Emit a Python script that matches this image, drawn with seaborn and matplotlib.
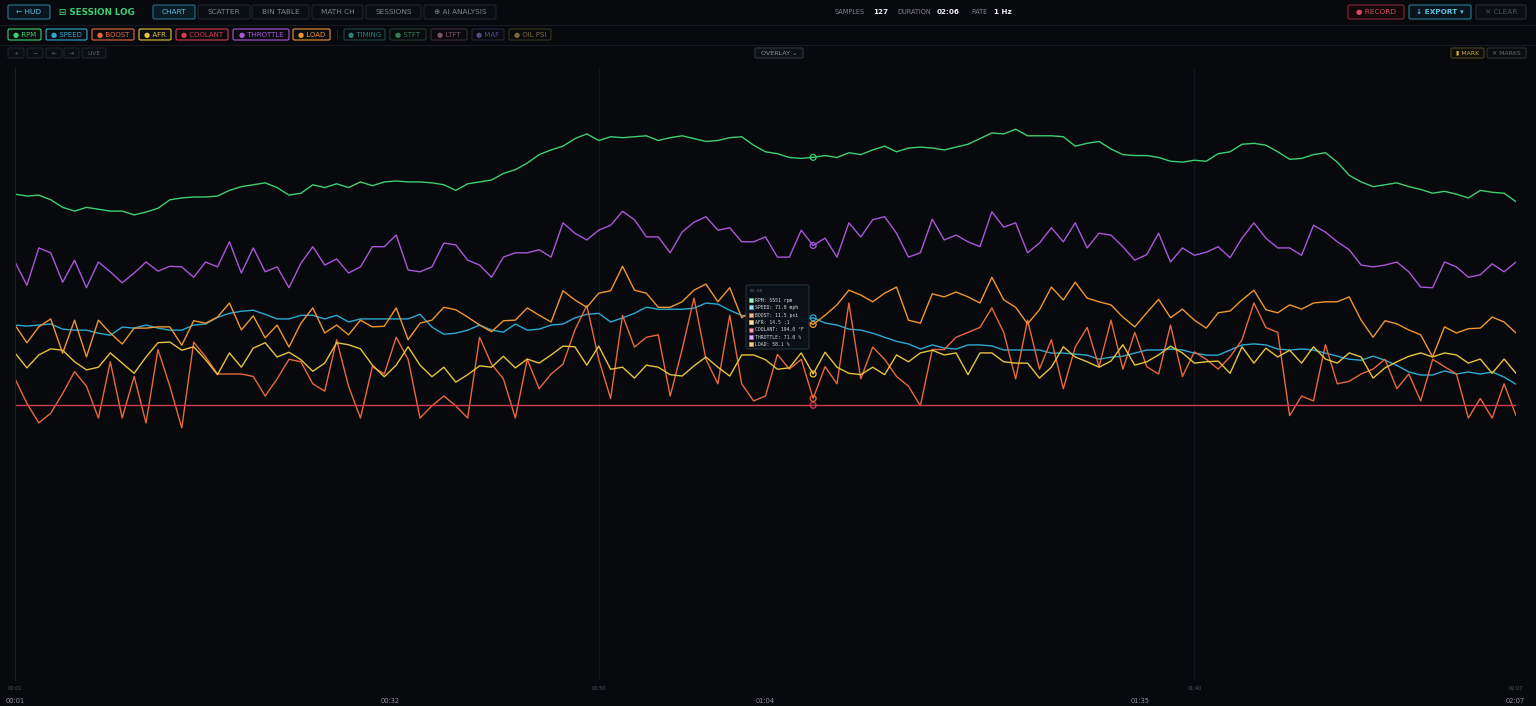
import numpy as np
import pandas as pd
import matplotlib
matplotlib.use("Agg")
import matplotlib.pyplot as plt
import seaborn as sns
from matplotlib.patches import Rectangle, FancyBboxPatch

# ---------------- data (1 Hz samples) ----------------
t = list(range(1, 128))

rpm = [5160, 5140, 5150, 5100, 5020, 4980, 5020, 5000, 4980, 4980,
       4940, 4970, 5010, 5100, 5120, 5130, 5130, 5140, 5200, 5240,
       5260, 5280, 5230, 5150, 5170, 5260, 5230, 5270, 5230, 5290,
       5250, 5290, 5300, 5290, 5290, 5280, 5260, 5200, 5270, 5290,
       5310, 5380, 5420, 5490, 5580, 5630, 5670, 5750, 5800, 5730,
       5770, 5760, 5770, 5780, 5730, 5760, 5780, 5750, 5720, 5730,
       5760, 5770, 5680, 5610, 5590, 5550, 5540, 5551, 5570, 5550,
       5600, 5580, 5630, 5670, 5610, 5650, 5660, 5650, 5630, 5660,
       5690, 5750, 5810, 5800, 5850, 5780, 5780, 5780, 5770, 5670,
       5700, 5720, 5640, 5580, 5570, 5570, 5550, 5510, 5500, 5520,
       5510, 5590, 5610, 5690, 5700, 5680, 5610, 5530, 5540, 5580,
       5600, 5500, 5360, 5290, 5240, 5260, 5280, 5240, 5210, 5170,
       5190, 5160, 5120, 5200, 5180, 5170, 5080]

speed = [69.6, 69.4, 69.6, 69.8, 68.8, 68.6, 68.6, 68.0, 67.6, 69.2,
         69.0, 69.6, 69.0, 68.6, 68.6, 69.6, 69.8, 71.1, 71.9, 72.3,
         72.5, 71.7, 70.8, 70.8, 71.5, 71.5, 70.8, 71.5, 70.2, 70.8,
         70.8, 70.8, 70.8, 70.8, 71.7, 69.2, 67.8, 68.0, 68.6, 69.6,
         68.6, 68.2, 69.8, 68.6, 68.8, 69.6, 69.8, 71.0, 71.7, 71.9,
         70.2, 71.0, 71.9, 73.1, 72.7, 72.7, 72.7, 72.9, 73.9, 73.7,
         72.5, 71.5, 71.1, 71.0, 71.3, 71.0, 70.8, 71.0, 70.0, 69.6,
         68.8, 68.6, 68.0, 67.2, 66.4, 65.9, 64.9, 65.7, 65.1, 64.9,
         65.7, 65.7, 65.5, 64.7, 64.7, 64.7, 64.7, 64.1, 64.1, 63.9,
         63.7, 62.9, 63.3, 63.5, 64.1, 64.7, 64.7, 64.9, 64.7, 64.1,
         63.7, 63.7, 64.7, 65.7, 65.9, 65.7, 64.9, 64.7, 64.9, 64.7,
         64.1, 63.5, 62.9, 62.7, 63.5, 62.7, 61.7, 60.4, 59.8, 59.8,
         60.6, 60.0, 60.4, 60.0, 60.4, 59.4, 58.0]

boost = [12.3, 11.3, 10.5, 10.9, 11.7, 12.6, 12.0, 10.7, 13.0, 10.7,
         12.4, 10.5, 13.5, 12.0, 10.3, 13.8, 13.2, 12.5, 12.5, 12.5,
         12.4, 11.6, 12.3, 13.1, 13.0, 12.1, 11.8, 13.9, 12.0, 10.7,
         12.8, 12.5, 14.0, 13.1, 10.7, 11.2, 11.6, 11.2, 10.7, 14.0,
         12.9, 12.3, 10.7, 13.1, 11.9, 12.5, 12.9, 14.3, 15.3, 13.1,
         11.5, 14.9, 13.6, 14.0, 14.1, 11.6, 13.5, 15.6, 13.1, 12.1,
         14.9, 12.1, 11.4, 11.6, 13.3, 12.7, 13.1, 11.5, 12.8, 12.1,
         15.4, 12.3, 13.6, 13.1, 12.4, 12.0, 11.2, 13.5, 13.5, 14.0,
         14.2, 14.4, 15.2, 14.2, 12.3, 14.7, 12.7, 13.9, 11.9, 13.6,
         14.4, 12.8, 14.7, 12.7, 14.2, 12.8, 12.5, 14.5, 12.4, 13.4,
         13.1, 12.7, 13.2, 13.9, 15.4, 14.4, 14.2, 10.8, 11.6, 11.4,
         13.7, 12.1, 12.2, 12.5, 12.7, 13.1, 11.9, 12.5, 11.4, 13.1,
         12.8, 12.5, 10.7, 11.5, 10.7, 12.1, 10.8]

afr = [14.81, 14.59, 14.78, 14.87, 14.85, 14.68, 14.56, 14.60, 14.81, 14.66,
       14.51, 14.75, 14.96, 14.97, 14.85, 14.90, 14.71, 14.49, 14.81, 14.60,
       14.88, 14.96, 14.75, 14.82, 14.71, 14.54, 14.66, 14.96, 14.93, 14.87,
       14.63, 14.46, 14.63, 14.90, 14.63, 14.46, 14.60, 14.38, 14.49, 14.62,
       14.60, 14.76, 14.59, 14.72, 14.66, 14.78, 14.91, 14.90, 14.63, 14.91,
       14.57, 14.60, 14.44, 14.63, 14.60, 14.49, 14.47, 14.62, 14.75, 14.60,
       14.47, 14.78, 14.78, 14.71, 14.57, 14.59, 14.81, 14.50, 14.82, 14.60,
       14.51, 14.49, 14.60, 14.49, 14.78, 14.68, 14.81, 14.85, 14.78, 14.81,
       14.49, 14.81, 14.81, 14.68, 14.66, 14.66, 14.44, 14.60, 14.90, 14.75,
       14.68, 14.60, 14.69, 14.93, 14.63, 14.68, 14.78, 14.91, 14.81, 14.66,
       14.68, 14.69, 14.51, 14.90, 14.66, 14.88, 14.75, 14.85, 14.66, 14.90,
       14.72, 14.66, 14.81, 14.75, 14.44, 14.59, 14.68, 14.76, 14.81, 14.75,
       14.81, 14.78, 14.66, 14.72, 14.51, 14.72, 14.51]

coolant = [194.0] * 127

throttle = [68.3, 64.5, 70.6, 69.8, 65.0, 68.6, 64.1, 68.3, 66.7, 64.9,
            66.5, 68.3, 66.8, 67.6, 67.5, 65.8, 68.3, 67.5, 71.6, 66.5,
            70.6, 66.7, 67.5, 64.1, 68.1, 70.8, 67.8, 68.8, 66.5, 67.5,
            70.8, 70.8, 72.7, 67.0, 66.7, 67.5, 71.4, 71.1, 68.6, 67.8,
            65.8, 69.1, 69.8, 69.8, 70.3, 69.1, 74.7, 73.0, 71.9, 73.5,
            74.3, 76.6, 75.2, 72.4, 72.4, 69.8, 73.2, 74.8, 75.7, 73.5,
            73.9, 71.6, 71.6, 72.4, 69.1, 69.1, 73.5, 71.0, 72.2, 69.1,
            74.7, 72.4, 75.2, 75.7, 73.0, 69.1, 69.8, 75.3, 71.9, 72.7,
            71.6, 70.8, 76.5, 74.0, 74.7, 69.8, 71.4, 73.9, 71.6, 74.7,
            70.6, 73.0, 72.7, 70.8, 68.6, 69.5, 73.0, 68.3, 70.6, 69.4,
            69.9, 70.8, 69.0, 72.2, 74.7, 72.2, 70.6, 70.6, 69.4, 74.3,
            73.2, 71.6, 70.3, 67.8, 67.5, 67.8, 68.3, 66.7, 64.2, 64.1,
            68.3, 67.5, 65.8, 66.2, 68.0, 66.7, 68.3]

load = [58.0, 55.1, 57.7, 59.0, 53.4, 58.8, 52.8, 58.8, 56.7, 54.9,
        57.5, 57.5, 57.7, 57.7, 54.7, 58.7, 58.3, 59.3, 61.6, 57.2,
        59.5, 55.9, 58.0, 54.4, 58.3, 60.8, 56.7, 58.0, 56.4, 58.8,
        57.7, 57.8, 60.8, 55.6, 58.3, 58.8, 60.9, 60.5, 59.3, 58.0,
        56.9, 58.7, 58.8, 60.8, 59.6, 58.5, 63.6, 62.1, 60.9, 63.2,
        63.6, 67.6, 63.7, 63.2, 60.9, 60.9, 61.8, 63.7, 64.7, 61.8,
        64.1, 59.2, 60.5, 62.1, 59.6, 61.3, 58.8, 58.1, 59.6, 61.3,
        63.7, 62.9, 61.8, 63.2, 64.2, 58.8, 58.3, 63.1, 62.6, 63.4,
        62.6, 61.6, 65.8, 62.1, 60.9, 58.2, 60.5, 64.2, 62.1, 65.0,
        62.4, 61.8, 61.3, 59.3, 57.7, 60.0, 62.2, 59.2, 60.6, 58.8,
        57.5, 60.0, 60.3, 62.1, 63.7, 60.5, 60.0, 61.3, 60.6, 61.6,
        61.8, 61.8, 62.6, 58.8, 56.0, 58.7, 58.2, 57.2, 56.4, 52.8,
        57.7, 56.7, 57.4, 57.5, 59.3, 58.5, 56.7]

active_channels = ["RPM", "SPEED", "BOOST", "AFR", "COOLANT", "THROTTLE", "LOAD"]
inactive_channels = ["TIMING", "STFT", "LTFT", "MAF", "OIL PSI"]
tabs = ["CHART", "SCATTER", "BIN TABLE", "MATH CH", "SESSIONS", "⊕ AI ANALYSIS"]
hover_index = 67

# ---------------- styling ----------------
BG = "#07090d"
colors = {"RPM": "#3ecf72", "SPEED": "#2ea9d2", "BOOST": "#e8683c", "AFR": "#e6c33c",
          "COOLANT": "#d63a50", "THROTTLE": "#a957d8", "LOAD": "#f0962f"}
pastel = {"RPM": "#a6f0c4", "SPEED": "#a8def0", "BOOST": "#f2b4a0", "AFR": "#f2e2a4",
          "COOLANT": "#f2a6b4", "THROTTLE": "#dcb4f2", "LOAD": "#f4cc98"}
units = {"RPM": "rpm", "SPEED": "mph", "BOOST": "psi", "AFR": ":1",
         "COOLANT": "°F", "THROTTLE": "%", "LOAD": "%"}
scales = {"RPM": (0, 6500), "SPEED": (0, 120), "BOOST": (0, 25), "AFR": (10, 19),
          "COOLANT": (150, 248), "THROTTLE": (0, 100), "LOAD": (0, 100)}
values = {"RPM": rpm, "SPEED": speed, "BOOST": boost, "AFR": afr,
          "COOLANT": coolant, "THROTTLE": throttle, "LOAD": load}

sns.set_style("dark")
plt.rcParams["font.family"] = ["DejaVu Sans"]

W, H = 1536, 706
fig = plt.figure(figsize=(W / 100, H / 100), dpi=100, facecolor=BG)

# background UI layer (pixel coordinates)
ui = fig.add_axes([0, 0, 1, 1])
ui.set_xlim(0, W); ui.set_ylim(H, 0); ui.axis("off"); ui.set_zorder(0)
ui.set_facecolor(BG)


def mmss(s):
    s = int(round(s))
    return f"{s // 60:02d}:{s % 60:02d}"


def button(x0, x1, y0, y1, text, ec, tc, fc=BG, fs=5.3, weight="normal", lw=0.8):
    ui.add_patch(FancyBboxPatch((x0, y0), x1 - x0, y1 - y0,
                                boxstyle="round,pad=0,rounding_size=1.5",
                                fc=fc, ec=ec, lw=lw))
    ui.text((x0 + x1) / 2, (y0 + y1) / 2 + 0.3, text, color=tc, fontsize=fs,
            ha="center", va="center", fontweight=weight)


# top bar
button(8, 50, 5, 19, "← HUD", "#2b7790", "#5cc4e2", fc="#09151c", fs=5.3)
ui.text(59, 12.5, "⊟ SESSION LOG", color="#3ecf72", fontsize=6.3,
        fontweight="bold", ha="left", va="center")
tab_x = [(153, 195), (198, 250), (252, 309), (312, 363), (366, 421), (424, 496)]
for i, (name, (a, b)) in enumerate(zip(tabs, tab_x)):
    if i == 0:
        button(a, b, 5, 19, name, "#2b6f86", "#5cc0dc", fc="#0c1c24")
    else:
        button(a, b, 5, 19, name, "#1e242c", "#7b838c", fc="#0a0d12")

stats = [("SAMPLES", f"{len(t)}", 835, 873), ("DURATION", mmss(t[-1] - t[0]), 897, 937),
         ("RATE", "1 Hz", 971, 994)]
for lab, val, xl, xv in stats:
    ui.text(xl, 12.5, lab, color="#7d8590", fontsize=4.7, ha="left", va="center")
    ui.text(xv, 12.5, val, color="#e6edf3", fontsize=5.2, fontweight="bold",
            ha="left", va="center")

button(1348, 1404, 5, 19, "● RECORD", "#8a2638", "#d9485e", fc="#12080b")
button(1409, 1471, 5, 19, "↓ EXPORT ▾", "#2b7790", "#5cc4e2", fc="#09151c", weight="bold")
button(1476, 1526, 5, 19, "✕ CLEAR", "#262c34", "#4a525c", fc="#0a0d12")
ui.plot([0, W], [24.5, 24.5], color="#161b22", lw=0.8)

# channel toggles
act_x = [(8, 41), (46, 87), (92, 134), (139, 171), (176, 228), (233, 289), (293, 330)]
for name, (a, b) in zip(active_channels, act_x):
    button(a, b, 29, 40, "● " + name, colors[name], colors[name], fc="#0a0c10", fs=5.0)
ui.text(337.5, 34.5, "|", color="#2a3038", fontsize=6, ha="center", va="center")
inact_x = [(344, 385), (390, 426), (431, 467), (472, 504), (509, 551)]
inact_col = [("#1b4649", "#2c7f80"), ("#1d3a28", "#3a7c52"), ("#3a2a32", "#7a5565"),
             ("#272342", "#554a8a"), ("#38321a", "#7a6c34")]
for name, (a, b), (ec, tc) in zip(inactive_channels, inact_x, inact_col):
    button(a, b, 29, 40, "● " + name, ec, tc, fc="#080a0d", fs=5.0)
ui.plot([0, W], [44.5, 44.5], color="#161b22", lw=0.8)

# nav row
for txt, (a, b) in zip(["+", "−", "⇤", "⇥", "LIVE"],
                       [(8, 24), (27, 43), (46, 62), (64, 79), (82, 106)]):
    button(a, b, 48, 58, txt, "#1e242c", "#5a626c", fc="#0a0d12", fs=4.4)
button(755, 803, 48, 58, "OVERLAY ⌄", "#30363d", "#8b949e", fc="#0d1015", fs=4.6)
button(1451, 1484, 48, 58, "▮ MARK", "#4e4220", "#c9aa3c", fc="#0f0e08", fs=4.4)
button(1487, 1526, 48, 58, "✕ MARKS", "#2a2d30", "#6e6c5c", fc="#0a0c0f", fs=4.4)

# ---------------- main chart ----------------
x0, x1, yt, yb = 15, 1516, 68, 680
ax = fig.add_axes([x0 / W, (H - yb) / H, (x1 - x0) / W, (yb - yt) / H])
ax.set_zorder(1)
ax.patch.set_alpha(0)

rows = []
for name in active_channels:
    lo, hi = scales[name]
    for ti, v in zip(t, values[name]):
        rows.append({"t": ti, "pct": (v - lo) / (hi - lo) * 100, "series": name, "value": v})
long = pd.DataFrame(rows)

sns.lineplot(data=long, x="t", y="pct", hue="series", hue_order=active_channels,
             palette=colors, estimator=None, sort=False, legend=False,
             linewidth=1.0, ax=ax)
for ln in ax.lines:
    ln.set_solid_joinstyle("round")
    ln.set_solid_capstyle("round")

hover = long[long["t"] == t[hover_index]]
sns.scatterplot(data=hover, x="t", y="pct", hue="series", hue_order=active_channels,
                palette=colors, legend=False, s=18, linewidth=0.9, ax=ax, zorder=5)
for coll in ax.collections:
    coll.set_facecolor("none")
    coll.set_edgecolor([colors[s] for s in hover["series"]])

ax.set_xlim(t[0], t[-1])
ax.set_ylim(0, 100)
tick_t = [1, 50, 100, 127]
ax.set_xticks(tick_t)
ax.set_xticklabels([mmss(v) for v in tick_t])
ax.set_yticks([])
ax.tick_params(axis="x", length=0, pad=4, labelsize=3.6, labelcolor="#4c545e")
ax.grid(axis="x", color="#13171d", lw=0.8)
ax.grid(axis="y", visible=False)
ax.set_xlabel(""); ax.set_ylabel("")
for side, sp in ax.spines.items():
    sp.set_visible(side == "left")
    sp.set_color("#1a1f26"); sp.set_linewidth(0.8)

# bottom scrub labels
for k, tv in enumerate(np.linspace(t[0], t[-1], 5)):
    ui.text(15 + k * 375, 701, mmss(int(tv)), color="#8b949e", fontsize=4.8,
            ha="center", va="center")

# ---------------- tooltip ----------------
top = fig.add_axes([0, 0, 1, 1])
top.set_xlim(0, W); top.set_ylim(H, 0); top.axis("off"); top.set_zorder(3)
top.patch.set_alpha(0)
top.add_patch(FancyBboxPatch((746, 285), 63, 64, boxstyle="round,pad=0,rounding_size=2",
                             fc="#0b1117", ec="#25333d", lw=0.8, alpha=0.96))
top.text(749.5, 291.5, mmss(t[hover_index]), color="#5e6772", fontsize=3.2,
         ha="left", va="center", family="DejaVu Sans Mono")
for k, name in enumerate(active_channels):
    yy = 300 + k * 7.4
    top.add_patch(Rectangle((748.5, yy - 2.0), 4.0, 4.0, fc=pastel[name],
                            ec=colors[name], lw=0.5))
    v = values[name][hover_index]
    vs = f"{v:.0f}" if name == "RPM" else f"{v:.1f}"
    top.text(755, yy + 0.2, f"{name}: {vs} {units[name]}", color="#d5dce3",
             fontsize=3.4, ha="left", va="center", family="DejaVu Sans Mono")

fig.savefig("out.png", dpi=100, facecolor=BG)
